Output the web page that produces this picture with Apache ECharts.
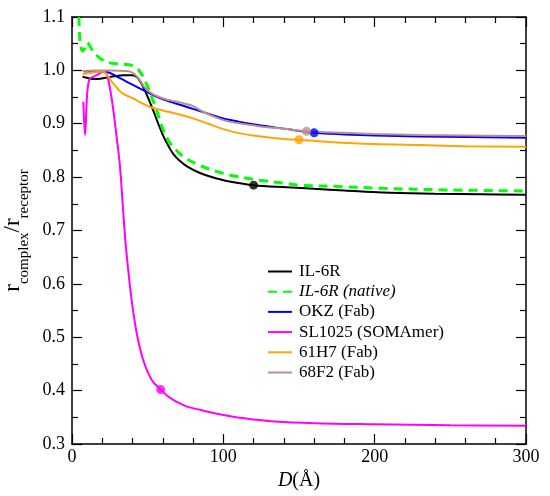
<!DOCTYPE html>
<html>
<head>
<meta charset="utf-8">
<script src="https://cdn.jsdelivr.net/npm/echarts@6/dist/echarts.min.js"></script>
<style>
    html, body {margin: 0; padding: 0; background: #fff;}
    #chart {width: 550px; height: 496px;}
</style>
</head>
<body>
<div id="chart"></div>
<script>
// values: D (Å) vs r_complex / r_receptor
var il6rX = [7, 10, 13, 17, 22, 28, 34, 40, 43, 46, 49, 52, 55, 58, 61, 64, 67, 71, 76, 82, 88, 95, 104, 120, 142, 160, 180, 205, 240, 270, 300];
var il6rY = [0.988, 0.986, 0.984, 0.984, 0.986, 0.989, 0.991, 0.991, 0.987, 0.975, 0.957, 0.937, 0.915, 0.893, 0.873, 0.857, 0.843, 0.831, 0.820, 0.811, 0.804, 0.798, 0.792, 0.785, 0.781, 0.778, 0.775, 0.771, 0.769, 0.768, 0.767];

var nativeX = [4.6, 5.3, 7, 8.5, 10, 13, 16, 20, 25, 32, 40, 43, 46, 49, 52, 56, 60, 64, 68, 72, 76, 82, 88, 95, 104, 122, 142, 150, 180, 205, 250, 300];
var nativeY = [1.100, 1.055, 1.036, 1.042, 1.052, 1.040, 1.029, 1.020, 1.014, 1.012, 1.009, 1.004, 0.993, 0.976, 0.955, 0.925, 0.890, 0.867, 0.853, 0.842, 0.834, 0.825, 0.818, 0.811, 0.804, 0.795, 0.788, 0.785, 0.782, 0.779, 0.776, 0.774];

var okzX = [8, 15, 22, 26, 30, 34, 38, 45, 52, 58, 65, 72, 82, 92, 100, 110, 122, 142, 160, 180, 200, 230, 260, 300];
var okzY = [0.998, 0.999, 0.998, 0.994, 0.988, 0.982, 0.976, 0.966, 0.956, 0.948, 0.941, 0.935, 0.926, 0.917, 0.910, 0.904, 0.898, 0.890, 0.883, 0.880, 0.878, 0.876, 0.875, 0.874];

var slX = [7.5, 8.6, 10, 11.5, 14, 17, 20.7, 22.5, 24, 25.5, 27.3, 29.5, 31.7, 35, 37, 39.4, 42.8, 47.1, 52.7, 58.6, 64, 69.2, 76, 84.6, 95, 106.6, 120, 134, 160, 200, 250, 300];
var slY = [0.941, 0.879, 0.955, 0.983, 0.988, 0.992, 0.998, 0.996, 0.982, 0.960, 0.926, 0.875, 0.820, 0.690, 0.630, 0.570, 0.507, 0.457, 0.420, 0.402, 0.388, 0.379, 0.370, 0.364, 0.357, 0.351, 0.346, 0.342, 0.339, 0.337, 0.335, 0.334];

var h7X = [7, 12, 16, 20, 23, 26, 29, 32, 36, 40, 45, 52, 60, 70, 80, 90, 100, 111, 125, 142, 150, 170, 200, 230, 260, 300];
var h7Y = [0.993, 0.995, 0.997, 0.998, 0.992, 0.980, 0.970, 0.960, 0.953, 0.948, 0.940, 0.931, 0.925, 0.918, 0.910, 0.900, 0.890, 0.882, 0.876, 0.871, 0.870, 0.866, 0.862, 0.860, 0.858, 0.857];

var f2X = [7, 15, 25, 35, 40, 44, 48, 52, 56, 62, 68, 74, 80, 87, 95, 104, 122, 142, 155, 180, 200, 230, 260, 300];
var f2Y = [0.999, 1.000, 1.000, 0.999, 0.996, 0.985, 0.968, 0.958, 0.952, 0.946, 0.942, 0.938, 0.933, 0.922, 0.912, 0.904, 0.896, 0.890, 0.886, 0.883, 0.881, 0.879, 0.878, 0.877];

// one dot per curve
var markX = [120, 160, 58.6, 150, 155];
var markY = [0.785, 0.883, 0.402, 0.870, 0.886];
var markColors = ['#000000', '#0000ff', '#ff00ff', '#ffa500', '#bc8f8f'];

var names = ['IL-6R', 'IL-6R (native)', 'OKZ (Fab)', 'SL1025 (SOMAmer)', '61H7 (Fab)', '68F2 (Fab)'];
var colors = ['#000000', '#00ff00', '#0000ff', '#ff00ff', '#ffa500', '#bc8f8f'];

var FONT = 'Liberation Serif';

function pairs(xs, ys) {
    var out = [];
    for (var i = 0; i < xs.length; i++) {
        out.push([xs[i], ys[i]]);
    }
    return out;
}

function lineSeries(name, color, xs, ys, dashed) {
    return {
        name: name,
        type: 'line',
        data: pairs(xs, ys),
        symbol: 'none',
        smooth: 0.35,
        color: color,
        lineStyle: {
            color: color,
            width: dashed ? 3 : 2,
            type: dashed ? [9, 6] : 'solid'
        },
        clip: true,
        animation: false
    };
}

var series = [
    lineSeries(names[0], colors[0], il6rX, il6rY, false),
    lineSeries(names[1], colors[1], nativeX, nativeY, true),
    lineSeries(names[2], colors[2], okzX, okzY, false),
    lineSeries(names[3], colors[3], slX, slY, false),
    lineSeries(names[4], colors[4], h7X, h7Y, false),
    lineSeries(names[5], colors[5], f2X, f2Y, false)
];

var dots = [];
for (var i = 0; i < markX.length; i++) {
    dots.push({value: [markX[i], markY[i]], itemStyle: {color: markColors[i]}});
}
series.push({
    name: 'dots',
    type: 'scatter',
    data: dots,
    symbol: 'circle',
    symbolSize: 9,
    z: 5,
    animation: false
});

function $extend(a, b) {
    for (var k in b) {
        a[k] = b[k];
    }
    return a;
}

function axisCommon(extra) {
    return $extend({
        axisLine: {show: true, onZero: false, lineStyle: {color: '#000', width: 1.5}},
        axisTick: {show: true, inside: true, length: 10, lineStyle: {color: '#000', width: 1.2}},
        splitLine: {show: false},
        minorSplitLine: {show: false}
    }, extra);
}

function minor(n) {
    return {show: true, splitNumber: n, length: 6, lineStyle: {color: '#000', width: 1.2}};
}

var xBase = {type: 'value', min: 0, max: 300, interval: 100};
var yBase = {type: 'value', min: 0.3, max: 1.1, interval: 0.1};

var option = {
    backgroundColor: '#fff',
    animation: false,
    grid: {left: 72, right: 24, top: 17, bottom: 52, containLabel: false, outerBoundsMode: 'none'},
    legend: {
        orient: 'vertical',
        left: 262,
        top: 258,
        itemWidth: 24,
        itemHeight: 14,
        itemGap: 3.2,
        itemStyle: {opacity: 0},
        data: [
            {name: names[0]},
            {name: names[1], textStyle: {fontStyle: 'italic'}},
            {name: names[2]},
            {name: names[3]},
            {name: names[4]},
            {name: names[5]}
        ],
        textStyle: {fontFamily: FONT, fontSize: 17, color: '#000', padding: [0, 0, 0, 2]}
    },
    xAxis: [
        axisCommon($extend({
            position: 'bottom',
            minorTick: minor(5),
            axisLabel: {fontFamily: FONT, fontSize: 18, color: '#000', margin: 4},
            name: '{i|D}{n|(Å)}',
            nameLocation: 'middle',
            nameGap: 21,
            nameTextStyle: {
                rich: {
                    i: {fontFamily: FONT, fontSize: 20, fontStyle: 'italic', color: '#000'},
                    n: {fontFamily: FONT, fontSize: 20, color: '#000'}
                }
            }
        }, $extend({}, xBase))),
        axisCommon($extend({
            position: 'top',
            minorTick: minor(5),
            axisLabel: {show: false}
        }, $extend({}, xBase)))
    ],
    yAxis: [
        axisCommon($extend({
            position: 'left',
            minorTick: minor(2),
            axisLabel: {
                fontFamily: FONT, fontSize: 18, color: '#000', margin: 7,
                formatter: function (v) { return v.toFixed(1); }
            },
            name: '{r|r}{s|complex}{r|/r}{s|receptor}',
            nameLocation: 'middle',
            nameRotate: 90,
            nameGap: 26,
            nameTextStyle: {
                rich: {
                    r: {fontFamily: FONT, fontSize: 23, color: '#000', verticalAlign: 'top', lineHeight: 30},
                    s: {fontFamily: FONT, fontSize: 15, color: '#000', verticalAlign: 'bottom', lineHeight: 30}
                }
            }
        }, $extend({}, yBase))),
        axisCommon($extend({
            position: 'right',
            minorTick: minor(2),
            axisLabel: {show: false}
        }, $extend({}, yBase)))
    ],
    series: series
};

var myChart = echarts.init(document.getElementById('chart'));
myChart.setOption(option);
</script>
</body>
</html>
